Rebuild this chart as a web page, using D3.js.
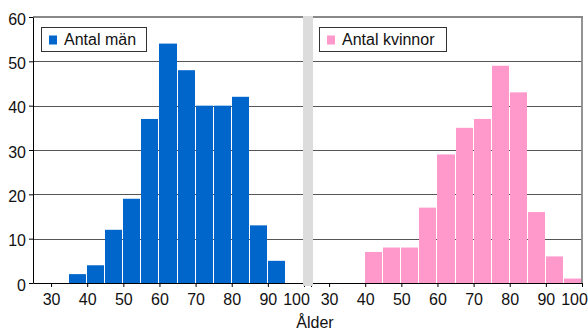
<!DOCTYPE html>
<html><head><meta charset="utf-8">
<script src="https://cdn.jsdelivr.net/npm/d3@7"></script>
<style>html,body{margin:0;padding:0;background:#fff;}svg{display:block;font-family:"Liberation Sans",Arial,sans-serif;}</style>
</head><body>
<svg id="chart" width="588" height="331"></svg>
<script>
// Data
const binStarts = [35, 40, 45, 50, 55, 60, 65, 70, 75, 80, 85, 90, 95];
const binWidth = 5;
const antalMan =     [2, 4, 12, 19, 37, 54, 48, 40, 40, 42, 13, 5, 0];
const antalKvinnor = [0, 7, 8, 8, 17, 29, 35, 37, 49, 43, 16, 6, 1];
const xTicks = [30, 40, 50, 60, 70, 80, 90, 100];
const yTicks = [0, 10, 20, 30, 40, 50, 60];
const seriesNames = ["Antal män", "Antal kvinnor"];
const xTitle = "Ålder";

const svg = d3.select("#chart");
const pTop = 17, pBottom = 283, pLeft = 33, pRight = 582;
const y = d3.scaleLinear().domain([0, 60]).range([pBottom, pTop]);
const xL = d3.scaleLinear().domain([25, 100]).range([33, 304]);
const xR = d3.scaleLinear().domain([25, 100]).range([311, 582]);

// gridlines
svg.append("g").selectAll("line").data(yTicks.filter(d => d > 0 && d < 60)).join("line")
  .attr("x1", pLeft).attr("x2", pRight)
  .attr("y1", d => Math.round(y(d)) + 0.5).attr("y2", d => Math.round(y(d)) + 0.5)
  .attr("stroke", "#555").attr("stroke-width", 1.2);
// top & right border
svg.append("line").attr("x1", pLeft).attr("x2", pRight + 1).attr("y1", pTop).attr("y2", pTop)
  .attr("stroke", "#888").attr("stroke-width", 1.8);
svg.append("line").attr("x1", pRight).attr("x2", pRight).attr("y1", pTop).attr("y2", pBottom)
  .attr("stroke", "#888").attr("stroke-width", 1.8);

function drawBars(scale, vals, color) {
  svg.append("g").selectAll("rect").data(binStarts.map((b, i) => ({b, v: vals[i]})).filter(d => d.v > 0)).join("rect")
    .attr("x", d => Math.round(scale(d.b)))
    .attr("width", d => Math.round(scale(d.b + binWidth)) - Math.round(scale(d.b)) - 1)
    .attr("y", d => y(d.v))
    .attr("height", d => pBottom - y(d.v))
    .attr("fill", color);
}
drawBars(xL, antalMan, "#0066CC");
drawBars(xR, antalKvinnor, "#FF99CC");

// x axes
function xAxis(scale, ticks) {
  const g = svg.append("g").attr("transform", `translate(0,${pBottom})`)
    .call(d3.axisBottom(scale).tickValues(ticks).tickSize(4).tickSizeOuter(0).tickFormat(d3.format("d")));
  g.select(".domain").attr("stroke", "#000");
  g.selectAll(".tick line").attr("stroke", "#000");
  g.selectAll(".tick text").attr("font-size", 16).attr("fill", "#111").attr("dy", "0.95em")
    .attr("font-family", "Liberation Sans, Arial, sans-serif")
    .attr("dx", d => d === 100 ? -8 : 0);
  return g;
}
xAxis(xL, xTicks);
xAxis(xR, [25].concat(xTicks));
svg.selectAll("g.tick").filter(d => d === 25).select("text").remove();

// y axis
const ya = svg.append("g").attr("transform", `translate(${pLeft},0)`)
  .call(d3.axisLeft(y).tickValues(yTicks).tickSize(4).tickSizeOuter(0));
ya.select(".domain").attr("stroke", "#000");
ya.selectAll(".tick line").attr("stroke", "#000");
ya.selectAll(".tick text").attr("font-size", 16).attr("fill", "#111").attr("x", -7).attr("dy", "0.45em")
  .attr("font-family", "Liberation Sans, Arial, sans-serif");

// gap bar
svg.append("rect").attr("x", 303).attr("y", 16).attr("width", 10).attr("height", 270).attr("fill", "#dcdcdc");

// legends
function legend(x0, w, name, color) {
  const g = svg.append("g");
  g.append("rect").attr("x", x0 + 0.5).attr("y", 27.5).attr("width", w).attr("height", 24)
    .attr("fill", "#fff").attr("stroke", "#333").attr("stroke-width", 1);
  g.append("rect").attr("x", x0 + 8).attr("y", 35.5).attr("width", 8).attr("height", 9).attr("fill", color);
  g.append("text").attr("x", x0 + 23).attr("y", 45).attr("font-size", 16).attr("fill", "#111").text(name);
}
legend(41, 105, seriesNames[0], "#0066CC");
legend(319, 127, seriesNames[1], "#FF99CC");

// x title
svg.append("text").attr("x", 315).attr("y", 328).attr("text-anchor", "middle")
  .attr("font-size", 16).attr("fill", "#111").text(xTitle);
</script>
</body></html>
